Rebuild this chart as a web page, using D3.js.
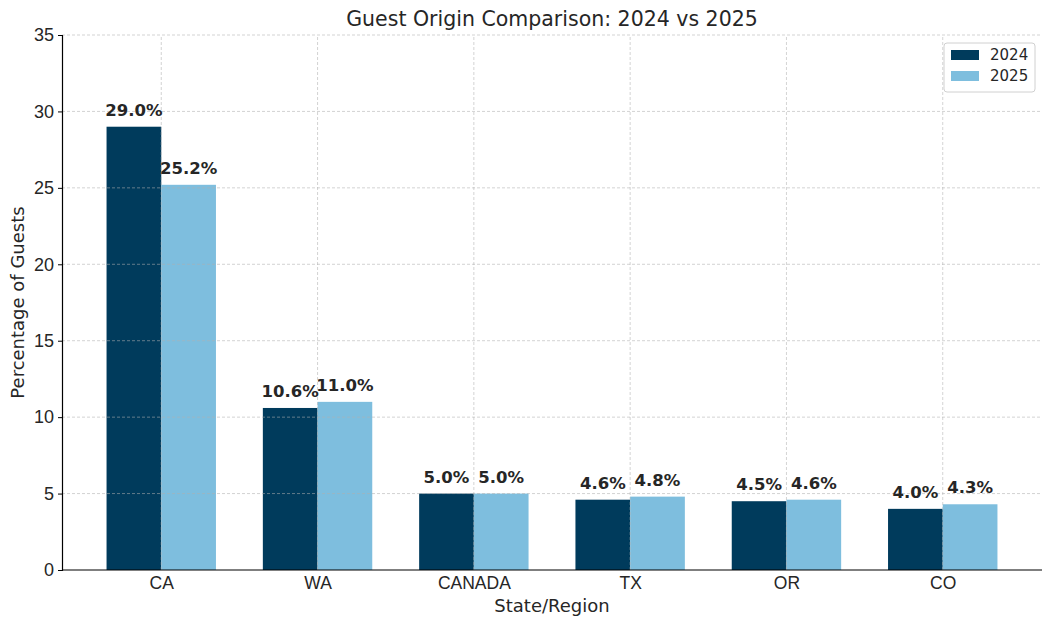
<!DOCTYPE html>
<html>
<head>
<meta charset="utf-8">
<script src="https://cdn.jsdelivr.net/npm/d3@7"></script>
<style>
  body { margin: 0; background: #fff; }
  svg { font-family: "DejaVu Sans", sans-serif; }
</style>
</head>
<body>
<div id="chart"></div>
<script>
// chart data
const regions = ["CA", "WA", "CANADA", "TX", "OR", "CO"];
const years = ["2024", "2025"];
const values2024 = [29.0, 10.6, 5.0, 4.6, 4.5, 4.0];
const values2025 = [25.2, 11.0, 5.0, 4.8, 4.6, 4.3];
const yTicks = [0, 5, 10, 15, 20, 25, 30, 35];
const yearColors = ["#003b5c", "#7ebede"];

const width = 1052, height = 627;
const margins = { top: 35, right: 10, bottom: 57, left: 62 };

const svg = d3.select("#chart")
  .append("svg")
  .attr("width", width)
  .attr("height", height);

// x as continuous index, matplotlib style: bars 0.35 wide, 5% margins
const barW = 0.35;
const x = d3.scaleLinear()
  .domain([-0.635, regions.length - 1 + 0.635])
  .range([margins.left, width - margins.right]);

const y = d3.scaleLinear()
  .domain([0, 35])
  .range([height - margins.bottom, margins.top]);

const data = regions.map((r, i) => ({ region: r, i, vals: [values2024[i], values2025[i]] }));

// bars
years.forEach((yr, k) => {
  svg.append("g")
    .selectAll("rect")
    .data(data)
    .join("rect")
    .attr("x", d => x(d.i + (k === 0 ? -barW : 0)))
    .attr("y", d => y(d.vals[k]))
    .attr("width", x(barW) - x(0))
    .attr("height", d => y(0) - y(d.vals[k]))
    .attr("fill", yearColors[k]);
});

// grid (drawn over bars, faint)
const grid = svg.append("g")
  .attr("stroke", "#b0b0b0")
  .attr("stroke-opacity", 0.7)
  .attr("stroke-dasharray", "3,2")
  .attr("stroke-width", 0.8);
grid.selectAll("line.h")
  .data(yTicks.slice(1))
  .join("line")
  .attr("x1", margins.left).attr("x2", width - margins.right)
  .attr("y1", d => y(d)).attr("y2", d => y(d));
grid.selectAll("line.v")
  .data(data)
  .join("line")
  .attr("x1", d => x(d.i)).attr("x2", d => x(d.i))
  .attr("y1", y(0)).attr("y2", margins.top);

// value labels
years.forEach((yr, k) => {
  svg.append("g")
    .selectAll("text")
    .data(data)
    .join("text")
    .attr("x", d => x(d.i + (k === 0 ? -barW / 2 : barW / 2)))
    .attr("y", d => y(d.vals[k]) - 11)
    .attr("text-anchor", "middle")
    .style("font-size", "16.5px")
    .style("font-weight", "bold")
    .style("fill", "#262626")
    .text(d => d.vals[k].toFixed(1) + "%");
});

// axes
const xAxis = d3.axisBottom(x)
  .tickValues(data.map(d => d.i))
  .tickFormat(i => regions[i])
  .tickSizeOuter(0)
  .tickSize(0);
const xg = svg.append("g")
  .attr("transform", `translate(0, ${y(0)})`)
  .call(xAxis);
xg.select(".domain").attr("stroke", "#000").attr("stroke-width", 1.2)
  .attr("d", `M${margins.left},0H${width - margins.right}`);
xg.selectAll("text").style("font-size", "17.5px").attr("fill", "#262626")
  .attr("y", 19).attr("dy", 0);

const yAxis = d3.axisLeft(y)
  .tickValues(yTicks)
  .tickSizeOuter(0)
  .tickSize(4)
  .tickPadding(4);
const yg = svg.append("g")
  .attr("transform", `translate(${margins.left}, 0)`)
  .call(yAxis);
yg.select(".domain").attr("stroke", "#000").attr("stroke-width", 1.2);
yg.selectAll("text").style("font-size", "18px").attr("fill", "#262626");

// titles
svg.append("text")
  .attr("x", (margins.left + width - margins.right) / 2)
  .attr("y", 26)
  .attr("text-anchor", "middle")
  .style("font-size", "20.5px")
  .style("fill", "#262626")
  .text("Guest Origin Comparison: 2024 vs 2025");

svg.append("text")
  .attr("x", (margins.left + width - margins.right) / 2)
  .attr("y", 612)
  .attr("text-anchor", "middle")
  .style("font-size", "18px")
  .style("fill", "#262626")
  .text("State/Region");

svg.append("text")
  .attr("transform", `translate(24, ${(margins.top + y(0)) / 2}) rotate(-90)`)
  .attr("text-anchor", "middle")
  .style("font-size", "18px")
  .style("fill", "#262626")
  .text("Percentage of Guests");

// legend
const legend = svg.append("g").attr("transform", "translate(944, 43)");
legend.append("rect")
  .attr("width", 91).attr("height", 49)
  .attr("rx", 3)
  .attr("fill", "#fff").attr("fill-opacity", 0.8)
  .attr("stroke", "#d0d0d0");
years.forEach((yr, k) => {
  legend.append("rect")
    .attr("x", 7).attr("y", 7 + k * 21)
    .attr("width", 28).attr("height", 10)
    .attr("fill", yearColors[k]);
  legend.append("text")
    .attr("x", 46).attr("y", 17 + k * 21)
    .style("font-size", "15px")
    .style("fill", "#262626")
    .text(yr);
});
</script>
</body>
</html>
